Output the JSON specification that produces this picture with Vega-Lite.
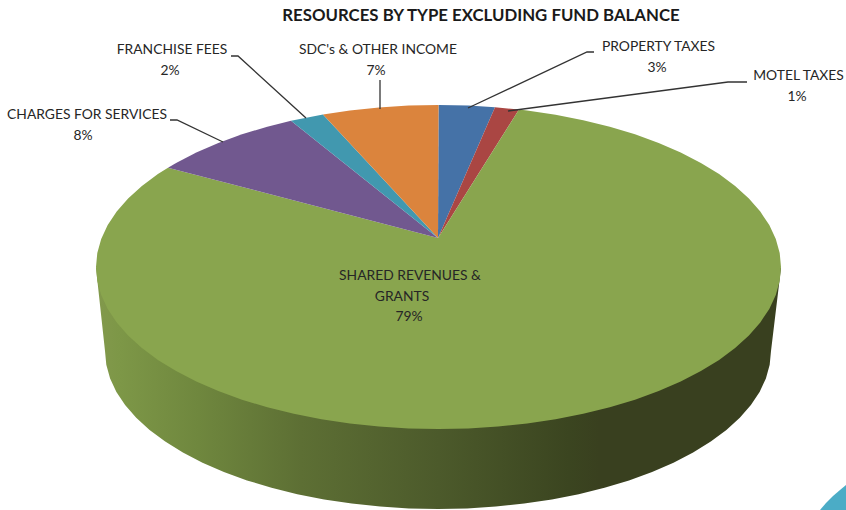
{"$schema":"https://vega.github.io/schema/vega-lite/v6.json","width":846,"height":510,"autosize":"none","padding":0,"background":"white","config":{"view":{"stroke":null}},
"title":{"text":"RESOURCES BY TYPE EXCLUDING FUND BALANCE","anchor":"middle","dx":58,"offset":-25,"font":"Lato","fontSize":16.8,"fontWeight":"bold","color":"#1a1a1a"},
"datasets":{
"wall":[{"i":0,"x":781,"y":268},{"i":1,"x":771,"y":351},{"i":2,"x":769.7,"y":364.8},{"i":3,"x":765.9,"y":378.4},{"i":4,"x":759.6,"y":391.9},{"i":5,"x":750.9,"y":405},{"i":6,"x":739.8,"y":417.8},{"i":7,"x":726.4,"y":430},{"i":8,"x":710.8,"y":441.6},{"i":9,"x":693.1,"y":452.6},{"i":10,"x":673.5,"y":462.7},{"i":11,"x":652.1,"y":472},{"i":12,"x":629,"y":480.4},{"i":13,"x":604.5,"y":487.8},{"i":14,"x":578.7,"y":494.2},{"i":15,"x":551.9,"y":499.5},{"i":16,"x":524.2,"y":503.6},{"i":17,"x":495.8,"y":506.6},{"i":18,"x":467,"y":508.4},{"i":19,"x":438,"y":509},{"i":20,"x":409,"y":508.4},{"i":21,"x":380.2,"y":506.6},{"i":22,"x":351.8,"y":503.6},{"i":23,"x":324.1,"y":499.5},{"i":24,"x":297.3,"y":494.2},{"i":25,"x":271.5,"y":487.8},{"i":26,"x":247,"y":480.4},{"i":27,"x":223.9,"y":472},{"i":28,"x":202.5,"y":462.7},{"i":29,"x":182.9,"y":452.6},{"i":30,"x":165.2,"y":441.6},{"i":31,"x":149.6,"y":430},{"i":32,"x":136.2,"y":417.8},{"i":33,"x":125.1,"y":405},{"i":34,"x":116.4,"y":391.9},{"i":35,"x":110.1,"y":378.4},{"i":36,"x":106.3,"y":364.8},{"i":37,"x":105,"y":351},{"i":38,"x":96,"y":268}],
"slices":[
{"slice":"PROPERTY TAXES","i":0,"x":438,"y":238},{"slice":"PROPERTY TAXES","i":1,"x":438.5,"y":105},{"slice":"PROPERTY TAXES","i":2,"x":468.4,"y":105.6},{"slice":"PROPERTY TAXES","i":3,"x":495,"y":107.2},{"slice":"PROPERTY TAXES","i":4,"x":438,"y":238},
{"slice":"MOTEL TAXES","i":0,"x":438,"y":238},{"slice":"MOTEL TAXES","i":1,"x":495,"y":107.2},{"slice":"MOTEL TAXES","i":2,"x":519,"y":109.5},{"slice":"MOTEL TAXES","i":3,"x":438,"y":238},
{"slice":"SHARED REVENUES & GRANTS","i":0,"x":438,"y":238},{"slice":"SHARED REVENUES & GRANTS","i":1,"x":519,"y":109.5},{"slice":"SHARED REVENUES & GRANTS","i":2,"x":527.1,"y":110.5},{"slice":"SHARED REVENUES & GRANTS","i":3,"x":555.6,"y":114.8},{"slice":"SHARED REVENUES & GRANTS","i":4,"x":583.2,"y":120.2},{"slice":"SHARED REVENUES & GRANTS","i":5,"x":609.8,"y":126.7},{"slice":"SHARED REVENUES & GRANTS","i":6,"x":635,"y":134.3},{"slice":"SHARED REVENUES & GRANTS","i":7,"x":658.7,"y":142.9},{"slice":"SHARED REVENUES & GRANTS","i":8,"x":680.7,"y":152.4},{"slice":"SHARED REVENUES & GRANTS","i":9,"x":700.9,"y":162.9},{"slice":"SHARED REVENUES & GRANTS","i":10,"x":719.1,"y":174.1},{"slice":"SHARED REVENUES & GRANTS","i":11,"x":735.1,"y":186},{"slice":"SHARED REVENUES & GRANTS","i":12,"x":748.9,"y":198.5},{"slice":"SHARED REVENUES & GRANTS","i":13,"x":760.3,"y":211.6},{"slice":"SHARED REVENUES & GRANTS","i":14,"x":769.3,"y":225.1},{"slice":"SHARED REVENUES & GRANTS","i":15,"x":775.8,"y":238.9},{"slice":"SHARED REVENUES & GRANTS","i":16,"x":779.7,"y":252.9},{"slice":"SHARED REVENUES & GRANTS","i":17,"x":781,"y":267},{"slice":"SHARED REVENUES & GRANTS","i":18,"x":779.7,"y":281.1},{"slice":"SHARED REVENUES & GRANTS","i":19,"x":775.8,"y":295.1},{"slice":"SHARED REVENUES & GRANTS","i":20,"x":769.3,"y":308.9},{"slice":"SHARED REVENUES & GRANTS","i":21,"x":760.3,"y":322.4},{"slice":"SHARED REVENUES & GRANTS","i":22,"x":748.9,"y":335.5},{"slice":"SHARED REVENUES & GRANTS","i":23,"x":735.1,"y":348},{"slice":"SHARED REVENUES & GRANTS","i":24,"x":719.1,"y":359.9},{"slice":"SHARED REVENUES & GRANTS","i":25,"x":700.9,"y":371.1},{"slice":"SHARED REVENUES & GRANTS","i":26,"x":680.7,"y":381.6},{"slice":"SHARED REVENUES & GRANTS","i":27,"x":658.7,"y":391.1},{"slice":"SHARED REVENUES & GRANTS","i":28,"x":635,"y":399.7},{"slice":"SHARED REVENUES & GRANTS","i":29,"x":609.8,"y":407.3},{"slice":"SHARED REVENUES & GRANTS","i":30,"x":583.2,"y":413.8},{"slice":"SHARED REVENUES & GRANTS","i":31,"x":555.6,"y":419.2},{"slice":"SHARED REVENUES & GRANTS","i":32,"x":527.1,"y":423.5},{"slice":"SHARED REVENUES & GRANTS","i":33,"x":498,"y":426.5},{"slice":"SHARED REVENUES & GRANTS","i":34,"x":468.4,"y":428.4},{"slice":"SHARED REVENUES & GRANTS","i":35,"x":438.5,"y":429},{"slice":"SHARED REVENUES & GRANTS","i":36,"x":408.6,"y":428.4},{"slice":"SHARED REVENUES & GRANTS","i":37,"x":379,"y":426.5},{"slice":"SHARED REVENUES & GRANTS","i":38,"x":349.9,"y":423.5},{"slice":"SHARED REVENUES & GRANTS","i":39,"x":321.4,"y":419.2},{"slice":"SHARED REVENUES & GRANTS","i":40,"x":293.8,"y":413.8},{"slice":"SHARED REVENUES & GRANTS","i":41,"x":267.3,"y":407.3},{"slice":"SHARED REVENUES & GRANTS","i":42,"x":242,"y":399.7},{"slice":"SHARED REVENUES & GRANTS","i":43,"x":218.3,"y":391.1},{"slice":"SHARED REVENUES & GRANTS","i":44,"x":196.3,"y":381.6},{"slice":"SHARED REVENUES & GRANTS","i":45,"x":176.1,"y":371.1},{"slice":"SHARED REVENUES & GRANTS","i":46,"x":157.9,"y":359.9},{"slice":"SHARED REVENUES & GRANTS","i":47,"x":141.9,"y":348},{"slice":"SHARED REVENUES & GRANTS","i":48,"x":128.1,"y":335.5},{"slice":"SHARED REVENUES & GRANTS","i":49,"x":116.7,"y":322.4},{"slice":"SHARED REVENUES & GRANTS","i":50,"x":107.7,"y":308.9},{"slice":"SHARED REVENUES & GRANTS","i":51,"x":101.2,"y":295.1},{"slice":"SHARED REVENUES & GRANTS","i":52,"x":97.3,"y":281.1},{"slice":"SHARED REVENUES & GRANTS","i":53,"x":96,"y":267},{"slice":"SHARED REVENUES & GRANTS","i":54,"x":97.3,"y":252.9},{"slice":"SHARED REVENUES & GRANTS","i":55,"x":101.2,"y":238.9},{"slice":"SHARED REVENUES & GRANTS","i":56,"x":107.7,"y":225.1},{"slice":"SHARED REVENUES & GRANTS","i":57,"x":116.7,"y":211.6},{"slice":"SHARED REVENUES & GRANTS","i":58,"x":128.1,"y":198.5},{"slice":"SHARED REVENUES & GRANTS","i":59,"x":141.9,"y":186},{"slice":"SHARED REVENUES & GRANTS","i":60,"x":157.9,"y":174.1},{"slice":"SHARED REVENUES & GRANTS","i":61,"x":168,"y":167.7},{"slice":"SHARED REVENUES & GRANTS","i":62,"x":438,"y":238},
{"slice":"CHARGES FOR SERVICES","i":0,"x":438,"y":238},{"slice":"CHARGES FOR SERVICES","i":1,"x":168,"y":167.7},{"slice":"CHARGES FOR SERVICES","i":2,"x":176.1,"y":162.9},{"slice":"CHARGES FOR SERVICES","i":3,"x":196.3,"y":152.4},{"slice":"CHARGES FOR SERVICES","i":4,"x":218.3,"y":142.9},{"slice":"CHARGES FOR SERVICES","i":5,"x":242,"y":134.3},{"slice":"CHARGES FOR SERVICES","i":6,"x":267.3,"y":126.7},{"slice":"CHARGES FOR SERVICES","i":7,"x":291,"y":120.8},{"slice":"CHARGES FOR SERVICES","i":8,"x":438,"y":238},
{"slice":"FRANCHISE FEES","i":0,"x":438,"y":238},{"slice":"FRANCHISE FEES","i":1,"x":291,"y":120.8},{"slice":"FRANCHISE FEES","i":2,"x":323,"y":114.5},{"slice":"FRANCHISE FEES","i":3,"x":438,"y":238},
{"slice":"SDC's & OTHER INCOME","i":0,"x":438,"y":238},{"slice":"SDC's & OTHER INCOME","i":1,"x":323,"y":114.5},{"slice":"SDC's & OTHER INCOME","i":2,"x":349.9,"y":110.5},{"slice":"SDC's & OTHER INCOME","i":3,"x":379,"y":107.5},{"slice":"SDC's & OTHER INCOME","i":4,"x":408.6,"y":105.6},{"slice":"SDC's & OTHER INCOME","i":5,"x":438.5,"y":105},{"slice":"SDC's & OTHER INCOME","i":6,"x":438,"y":238},
{"slice":"corner","i":0,"x":820,"y":510},{"slice":"corner","i":1,"x":826,"y":503},{"slice":"corner","i":2,"x":833,"y":496},{"slice":"corner","i":3,"x":840,"y":490},{"slice":"corner","i":4,"x":846,"y":485},{"slice":"corner","i":5,"x":846,"y":510},{"slice":"corner","i":6,"x":820,"y":510}
],
"leaders":[
{"slice":"FRANCHISE FEES","i":0,"x":231,"y":56},{"slice":"FRANCHISE FEES","i":1,"x":238,"y":56},{"slice":"FRANCHISE FEES","i":2,"x":306,"y":118},
{"slice":"SDC's & OTHER INCOME","i":0,"x":380,"y":80},{"slice":"SDC's & OTHER INCOME","i":1,"x":380,"y":109},
{"slice":"CHARGES FOR SERVICES","i":0,"x":170,"y":120},{"slice":"CHARGES FOR SERVICES","i":1,"x":177,"y":120},{"slice":"CHARGES FOR SERVICES","i":2,"x":223,"y":142},
{"slice":"PROPERTY TAXES","i":0,"x":594,"y":52},{"slice":"PROPERTY TAXES","i":1,"x":587,"y":52},{"slice":"PROPERTY TAXES","i":2,"x":468,"y":108},
{"slice":"MOTEL TAXES","i":0,"x":747,"y":82},{"slice":"MOTEL TAXES","i":1,"x":728,"y":82},{"slice":"MOTEL TAXES","i":2,"x":508,"y":111}
],
"labels":[
{"text":"FRANCHISE FEES","x":172,"y":50},{"text":"2%","x":170,"y":71},
{"text":"SDC's & OTHER INCOME","x":378,"y":50},{"text":"7%","x":376,"y":71},
{"text":"CHARGES FOR SERVICES","x":87,"y":115},{"text":"8%","x":83,"y":136},
{"text":"PROPERTY TAXES","x":658.5,"y":47},{"text":"3%","x":657,"y":68},
{"text":"MOTEL TAXES","x":798.5,"y":76},{"text":"1%","x":797,"y":97},
{"text":"SHARED REVENUES &","x":410,"y":276},{"text":"GRANTS","x":402,"y":297},{"text":"79%","x":409,"y":317}
]},
"layer":[
{"data":{"name":"wall"},"mark":{"type":"line","filled":true,"strokeWidth":0,"color":{"gradient":"linear","x1":0,"y1":0,"x2":1,"y2":0,"stops":[{"offset":0,"color":"#82994c"},{"offset":0.035,"color":"#7d9747"},{"offset":0.15,"color":"#6f873e"},{"offset":0.3,"color":"#5d6f34"},{"offset":0.5,"color":"#4c5a2b"},{"offset":0.69,"color":"#3b4520"},{"offset":0.735,"color":"#39401f"},{"offset":1,"color":"#39401f"}]}},
"encoding":{"x":{"field":"x","type":"quantitative","scale":{"domain":[0,846],"nice":false,"zero":false},"axis":null},"y":{"field":"y","type":"quantitative","scale":{"domain":[510,0],"nice":false,"zero":false},"axis":null},"order":{"field":"i"}}},
{"data":{"name":"slices"},"mark":{"type":"line","filled":true,"strokeWidth":0},
"encoding":{"x":{"field":"x","type":"quantitative","scale":{"domain":[0,846],"nice":false,"zero":false},"axis":null},"y":{"field":"y","type":"quantitative","scale":{"domain":[510,0],"nice":false,"zero":false},"axis":null},"order":{"field":"i"},
"color":{"field":"slice","type":"nominal","legend":null,"scale":{"domain":["PROPERTY TAXES","MOTEL TAXES","SHARED REVENUES & GRANTS","CHARGES FOR SERVICES","FRANCHISE FEES","SDC's & OTHER INCOME","corner"],"range":["#4572a7","#aa4643","#89a54e","#71588f","#4198af","#db843d","#4bacc6"]}}}},
{"data":{"name":"leaders"},"mark":{"type":"line","color":"#333333","strokeWidth":1.3},
"encoding":{"x":{"field":"x","type":"quantitative","scale":{"domain":[0,846],"nice":false,"zero":false},"axis":null},"y":{"field":"y","type":"quantitative","scale":{"domain":[510,0],"nice":false,"zero":false},"axis":null},"order":{"field":"i"},"detail":{"field":"slice"}}},
{"data":{"name":"labels"},"mark":{"type":"text","font":"Lato","fontSize":13.85,"color":"#262626","align":"center","baseline":"middle"},
"encoding":{"x":{"field":"x","type":"quantitative","scale":{"domain":[0,846],"nice":false,"zero":false},"axis":null},"y":{"field":"y","type":"quantitative","scale":{"domain":[510,0],"nice":false,"zero":false},"axis":null},"text":{"field":"text"}}}
]}
